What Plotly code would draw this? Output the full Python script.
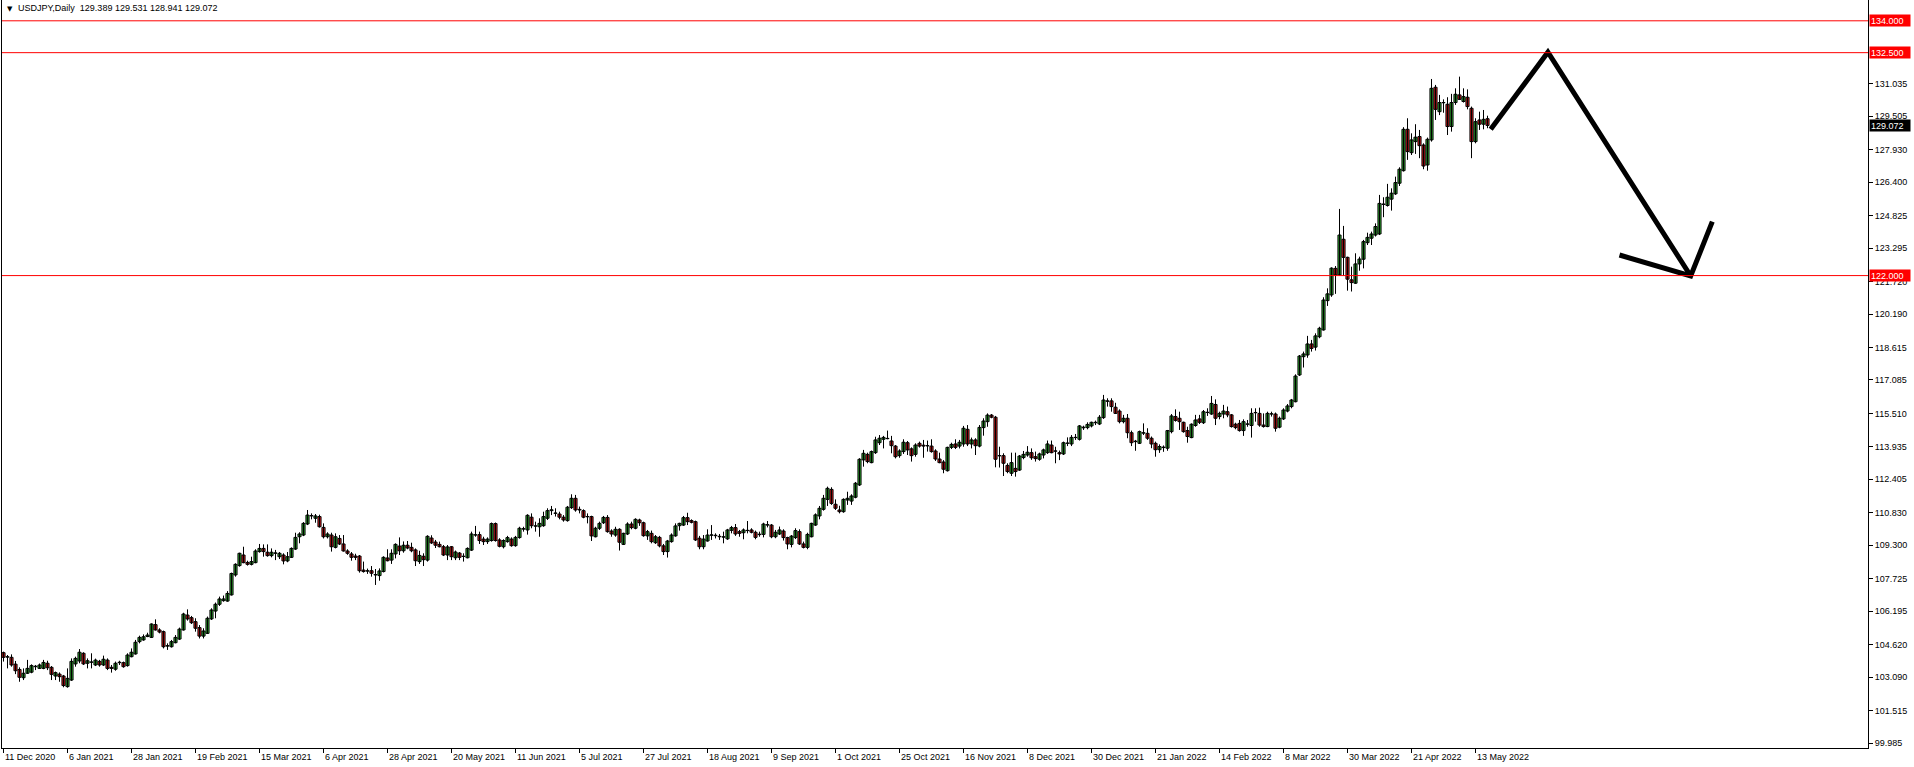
import plotly.graph_objects as go

OPEN = [
104.24,104.03,104.02,103.70,103.45,103.06,103.27,103.32,103.58,103.50,
103.50,103.74,103.55,103.14,103.23,103.14,102.64,102.95,103.71,103.85,
104.21,103.74,103.79,103.66,103.83,103.66,103.89,103.55,103.46,103.77,
103.77,103.63,104.05,104.18,104.76,104.84,105.00,104.96,105.56,105.31,
105.23,104.55,104.52,104.71,104.88,105.31,106.01,105.89,105.70,105.42,
105.02,105.15,105.83,106.20,106.52,106.69,106.67,106.96,107.90,108.34,
108.84,108.49,108.40,108.48,109.00,109.15,108.97,108.81,108.92,108.76,
108.84,108.56,108.73,109.12,109.70,109.78,110.30,110.68,110.57,110.65,
110.14,109.70,109.78,109.20,109.62,109.36,109.03,108.89,108.79,108.79,
108.13,108.08,108.10,107.90,107.87,108.06,108.70,108.60,108.89,109.26,
109.04,109.30,109.20,109.08,108.53,108.78,108.60,109.64,109.45,109.34,
109.23,108.84,109.23,108.71,108.93,108.77,108.71,109.07,109.78,109.80,
109.59,109.47,109.52,110.32,109.55,109.23,109.47,109.59,109.28,109.66,
110.06,110.02,110.62,110.20,110.17,110.22,110.57,110.93,110.80,110.77,
110.62,110.46,111.07,111.51,110.99,110.93,110.65,110.65,109.70,110.10,
110.36,110.61,109.97,109.78,110.05,109.34,109.83,110.30,110.10,110.49,
110.36,109.74,109.86,109.42,109.67,109.27,109.00,109.47,109.74,110.22,
110.25,110.60,110.46,110.41,109.63,109.23,109.50,109.77,109.75,109.72,
109.68,109.60,110.00,110.13,109.94,109.89,109.99,110.02,109.91,109.80,
109.81,110.25,110.25,109.70,109.83,109.97,109.66,109.34,109.66,109.94,
109.36,109.20,109.70,110.25,110.68,110.99,111.46,111.93,111.23,110.96,
110.88,111.43,111.38,111.56,112.14,113.32,113.58,113.19,113.66,114.13,
114.29,114.32,114.21,113.97,113.52,113.71,114.13,113.84,113.58,114.10,
114.01,113.99,113.97,113.74,113.36,113.22,112.81,113.91,114.07,113.97,
114.07,114.76,114.07,114.26,113.97,114.84,115.12,115.43,115.33,113.51,
113.52,113.06,112.69,112.92,112.84,113.43,113.55,113.66,113.47,113.35,
113.55,113.66,114.02,113.74,113.66,113.60,114.10,114.07,114.37,114.29,
114.83,114.84,114.92,115.07,115.01,115.31,116.08,116.10,115.80,115.62,
115.12,115.28,114.60,114.18,114.10,114.58,114.57,114.34,114.10,113.80,
113.90,113.87,114.65,115.36,115.28,115.09,114.70,114.37,114.94,115.25,
115.07,115.55,115.48,115.93,115.36,115.48,115.59,115.44,115.00,115.04,
114.70,115.00,114.94,115.54,115.51,114.96,114.89,115.48,115.48,114.86,
115.25,115.62,115.83,116.06,117.32,118.18,118.26,118.78,118.63,119.12,
119.44,120.82,121.09,122.34,122.03,123.71,122.86,121.80,121.64,122.55,
122.77,123.55,123.76,123.91,123.96,125.35,125.30,125.60,125.85,126.35,
126.94,128.89,127.79,128.31,128.55,128.15,127.21,128.39,130.87,129.72,
130.14,130.07,129.02,130.15,130.51,130.20,130.40,129.88,128.31,129.33,
129.13,129.389]

HIGH = [
104.29,104.13,104.16,103.85,103.55,103.50,103.90,103.69,103.66,103.73,
103.90,103.86,103.61,103.35,103.31,103.19,103.50,103.97,104.05,104.41,
104.26,103.97,104.21,103.96,103.90,104.10,103.97,103.66,103.82,103.86,
103.82,104.21,104.44,104.84,105.04,105.10,105.18,105.62,105.81,105.39,
105.28,104.68,104.84,105.07,105.42,106.12,106.28,105.97,105.86,105.54,
105.39,105.94,106.33,106.60,106.88,106.93,107.14,108.01,108.45,108.95,
109.23,108.57,108.76,109.11,109.36,109.34,109.34,109.15,109.08,108.98,
108.92,108.98,109.20,109.89,109.91,110.39,110.96,110.80,110.77,110.74,
110.33,109.91,109.89,109.86,109.78,109.78,109.11,108.98,108.90,108.84,
108.53,108.20,108.32,108.18,108.21,108.78,109.11,109.11,109.39,109.67,
109.48,109.50,109.42,109.15,109.04,108.92,109.77,109.77,109.55,109.47,
109.31,109.31,109.26,109.05,108.98,108.92,109.20,109.94,110.21,109.94,
109.70,109.67,110.37,110.37,109.63,109.58,109.74,109.67,109.74,110.17,
110.17,110.76,110.80,110.41,110.57,110.88,111.04,111.15,111.04,110.88,
110.72,111.15,111.70,111.67,111.12,110.99,110.80,110.69,110.17,110.41,
110.68,110.72,110.05,110.17,110.10,109.89,110.38,110.41,110.57,110.55,
110.41,110.02,109.99,109.78,109.74,109.36,109.55,109.86,110.33,110.36,
110.68,110.83,110.52,110.46,109.74,109.78,110.05,110.25,109.86,109.83,
109.94,110.07,110.21,110.30,110.02,110.09,110.44,110.10,109.99,109.94,
110.36,110.44,110.30,110.02,110.18,110.05,109.70,109.78,110.10,110.05,
109.47,109.89,110.36,110.80,111.15,111.67,112.06,112.03,111.46,111.16,
111.51,111.82,111.70,112.28,113.40,113.79,113.66,113.76,114.41,114.49,
114.45,114.70,114.45,114.02,113.82,114.29,114.21,113.91,114.10,114.18,
114.26,114.23,114.29,113.82,113.66,113.31,113.94,114.13,114.29,114.26,
114.92,114.96,114.37,114.34,114.96,115.28,115.51,115.48,115.39,113.94,
113.63,113.16,113.66,113.66,113.55,113.74,113.97,113.86,113.71,113.66,
113.85,114.23,114.23,113.94,113.76,114.18,114.38,114.49,114.54,114.96,
114.93,115.09,115.12,115.17,115.43,116.38,116.22,116.22,116.01,115.70,
115.44,115.48,114.70,114.26,114.70,115.04,114.81,114.42,114.18,114.05,
114.00,114.73,115.48,115.70,115.59,115.12,114.88,115.04,115.44,115.44,
115.67,115.75,116.33,116.17,115.59,115.91,115.83,115.48,115.07,115.20,
115.23,115.20,115.75,115.75,115.78,115.51,115.59,115.59,115.55,115.36,
115.75,115.95,116.19,117.35,118.26,118.42,119.16,118.97,119.28,119.59,
120.98,121.40,122.39,122.45,125.14,124.34,122.89,122.42,123.05,122.89,
123.68,124.02,124.07,124.46,125.80,125.69,126.32,126.11,126.66,127.10,
128.99,129.41,128.70,129.13,128.86,128.23,128.50,131.26,130.98,130.51,
130.30,130.40,130.56,130.82,131.37,130.82,130.77,129.96,129.41,129.72,
129.80,129.531]

LOW = [
103.82,103.50,103.58,103.23,102.87,102.95,103.24,103.27,103.42,103.47,
103.46,103.42,102.95,102.95,102.87,102.61,102.59,102.91,103.58,103.74,
103.66,103.50,103.50,103.61,103.58,103.61,103.42,103.30,103.39,103.66,
103.53,103.58,104.02,104.15,104.68,104.80,104.97,104.93,105.28,105.15,
104.44,104.37,104.48,104.68,104.84,105.28,105.75,105.59,105.23,104.91,
104.91,105.12,105.78,105.86,106.44,106.64,106.64,106.93,107.82,108.29,
108.45,108.34,108.35,108.45,108.95,108.76,108.76,108.73,108.60,108.65,
108.40,108.50,108.70,109.08,109.39,109.73,110.25,110.52,110.36,110.13,
109.62,109.62,109.00,109.15,109.31,109.00,108.85,108.57,108.60,108.01,
108.01,107.95,107.82,107.43,107.63,108.02,108.54,108.42,108.68,108.84,
108.95,109.11,108.97,108.32,108.42,108.32,108.53,109.36,109.17,109.20,
108.79,108.60,108.60,108.60,108.60,108.53,108.68,109.03,109.70,109.36,
109.31,109.36,109.47,109.47,109.20,109.15,109.42,109.23,109.23,109.61,
109.94,109.80,110.10,109.94,109.70,110.17,110.49,110.72,110.65,110.52,
110.41,110.41,111.01,110.88,110.80,110.57,110.33,109.50,109.67,110.02,
110.30,109.89,109.70,109.70,109.05,109.31,109.78,110.05,110.05,110.21,
109.70,109.55,109.39,109.36,109.20,108.84,108.72,109.42,109.70,109.99,
110.21,110.25,110.33,109.50,109.11,109.11,109.47,109.55,109.62,109.55,
109.39,109.55,109.86,109.74,109.70,109.58,109.86,109.86,109.58,109.70,
109.67,110.14,109.63,109.63,109.78,109.52,109.11,109.20,109.59,109.31,
109.15,109.11,109.67,110.21,110.52,110.93,111.15,111.20,110.96,110.80,
110.83,111.20,111.20,111.51,112.09,113.00,113.16,113.16,113.60,114.02,
113.86,114.29,113.63,113.39,113.42,113.60,113.55,113.24,113.47,113.90,
113.42,113.71,113.66,113.27,113.16,112.69,112.77,113.83,113.83,113.86,
113.94,113.97,113.86,113.55,113.91,114.46,114.88,115.28,112.97,112.96,
112.56,112.69,112.56,112.53,112.80,113.35,113.47,113.32,113.24,113.28,
113.39,113.60,113.63,113.16,113.31,113.55,113.97,113.97,114.26,114.23,
114.73,114.76,114.85,114.96,114.96,115.25,115.83,115.59,115.48,115.04,
115.04,114.34,113.97,113.75,114.07,114.49,114.26,113.87,113.47,113.65,
113.70,113.75,114.57,115.12,114.73,114.60,114.13,114.34,114.88,115.01,
115.01,115.39,115.44,114.96,115.23,115.28,115.33,114.84,114.76,114.65,
114.45,114.88,114.37,115.12,114.88,114.84,114.86,115.36,114.65,114.81,
115.20,115.56,115.75,116.03,117.27,117.67,118.13,118.42,118.47,119.05,
119.41,120.57,121.00,121.14,121.98,121.98,121.29,121.25,121.61,122.23,
122.34,123.44,123.44,123.84,123.91,124.75,125.25,125.06,125.80,126.22,
126.90,127.45,127.68,127.73,127.53,127.01,126.94,128.31,129.33,129.56,
129.67,128.62,128.78,130.04,130.27,130.15,129.83,127.53,128.23,128.86,
128.89,128.941]

CLOSE = [
104.02,104.05,103.66,103.39,103.08,103.27,103.50,103.63,103.60,103.66,
103.78,103.53,103.22,103.30,103.11,102.69,103.03,103.83,103.97,104.26,
103.71,103.86,103.80,103.89,103.66,103.93,103.50,103.50,103.74,103.79,
103.58,104.13,104.26,104.73,104.96,104.99,105.07,105.59,105.31,105.21,
104.52,104.57,104.76,104.96,105.35,106.06,105.83,105.65,105.39,105.02,
105.26,105.86,106.25,106.52,106.77,106.77,107.03,107.97,108.40,108.92,
108.48,108.40,108.53,109.03,109.15,109.00,108.81,108.97,108.94,108.92,
108.56,108.76,109.15,109.67,109.83,110.33,110.72,110.70,110.68,110.17,
109.70,109.83,109.23,109.70,109.36,109.03,108.92,108.73,108.73,108.10,
108.06,108.10,107.98,107.92,108.09,108.73,108.57,108.92,109.34,109.04,
109.30,109.17,109.04,108.57,108.82,108.62,109.72,109.41,109.30,109.23,
108.84,109.22,108.76,108.98,108.73,108.77,109.15,109.83,109.79,109.52,
109.47,109.59,110.32,109.52,109.25,109.52,109.66,109.28,109.67,110.10,
110.08,110.71,110.22,110.21,110.33,110.65,110.93,110.97,110.82,110.62,
110.49,111.09,111.51,110.96,110.96,110.62,110.64,109.74,110.10,110.33,
110.61,109.94,109.83,110.05,109.44,109.86,110.30,110.13,110.52,110.36,
109.75,109.94,109.47,109.70,109.27,109.00,109.50,109.78,110.21,110.33,
110.60,110.41,110.38,109.55,109.23,109.59,109.78,109.79,109.77,109.70,
109.70,110.02,110.13,109.83,109.86,110.02,110.00,109.91,109.67,109.82,
110.30,110.27,109.70,109.91,110.02,109.66,109.36,109.73,109.99,109.36,
109.20,109.81,110.33,110.73,111.04,111.51,111.98,111.27,111.04,110.88,
111.46,111.51,111.62,112.22,113.35,113.63,113.24,113.71,114.26,114.34,
114.38,114.33,113.99,113.47,113.74,114.15,113.79,113.52,114.02,113.97,
113.97,113.98,113.71,113.36,113.19,112.88,113.91,114.05,113.91,114.15,
114.81,114.07,114.26,113.99,114.85,115.15,115.43,115.33,113.35,113.52,
113.16,112.77,113.19,112.77,113.50,113.58,113.68,113.42,113.38,113.60,
113.79,114.07,113.66,113.73,113.60,114.13,114.11,114.38,114.38,114.92,
114.86,114.99,115.09,115.09,115.33,116.14,116.10,115.83,115.51,115.12,
115.28,114.60,114.13,114.20,114.65,114.60,114.34,114.07,113.80,113.95,
113.92,114.70,115.39,115.18,115.12,114.65,114.42,115.00,115.20,115.09,
115.59,115.56,115.98,115.28,115.51,115.62,115.44,114.89,114.84,114.70,
115.12,115.01,115.51,115.55,114.96,114.89,115.51,115.49,114.81,115.28,
115.67,115.86,116.14,117.27,118.21,118.31,118.78,118.57,119.16,119.52,
120.85,121.14,122.35,122.03,123.91,122.86,121.83,121.67,122.55,122.78,
123.60,123.80,123.96,124.31,125.40,125.37,125.69,125.88,126.38,127.01,
128.89,127.84,128.39,128.52,128.12,127.16,128.42,130.82,129.83,130.15,
130.15,129.02,130.15,130.54,130.30,130.43,129.96,128.31,129.25,129.13,
129.36,129.072]

X_LABELS = ["11 Dec 2020", "6 Jan 2021", "28 Jan 2021", "19 Feb 2021", "15 Mar 2021",
            "6 Apr 2021", "28 Apr 2021", "20 May 2021", "11 Jun 2021", "5 Jul 2021",
            "27 Jul 2021", "18 Aug 2021", "9 Sep 2021", "1 Oct 2021", "25 Oct 2021",
            "16 Nov 2021", "8 Dec 2021", "30 Dec 2021", "21 Jan 2022", "14 Feb 2022",
            "8 Mar 2022", "30 Mar 2022", "21 Apr 2022", "13 May 2022"]
X_LABEL_STEP = 16

Y_TICKS = [99.985, 101.515, 103.090, 104.620, 106.195, 107.725, 109.300, 110.830,
           112.405, 113.935, 115.510, 117.085, 118.615, 120.190, 121.720, 123.295,
           124.825, 126.400, 127.930, 129.505, 131.035]

LEVELS = [134.0, 132.5, 122.0]

# hand-drawn projection arrow (bar index, price)
PATH_X = [371.8, 386.1, 421.8]
PATH_Y = [128.89, 132.52, 121.98]
HEAD_X = [404.0, 421.8, 427.2]
HEAD_Y = [122.97, 121.98, 124.54]

SYMBOL = "USDJPY,Daily"
LAST = (OPEN[-1], HIGH[-1], LOW[-1], CLOSE[-1])

FONT = "Liberation Sans"
BULL = "#32b432"
BEAR = "#e41e1e"

X = list(range(len(OPEN)))
XTICK_POS = [i * X_LABEL_STEP for i in range(len(X_LABELS))]

# wicks (high-low segments)
wx, wy = [], []
for i, h, l in zip(X, HIGH, LOW):
    wx += [i, i, None]
    wy += [l, h, None]

body_base = [min(o, c) for o, c in zip(OPEN, CLOSE)]
body_len = [max(abs(c - o), 0.012) for o, c in zip(OPEN, CLOSE)]
body_col = [BULL if c >= o else BEAR for o, c in zip(OPEN, CLOSE)]

fig = go.Figure()
fig.add_trace(go.Scatter(x=wx, y=wy, mode="lines", line=dict(color="black", width=1),
                         hoverinfo="skip", showlegend=False))
fig.add_trace(go.Bar(x=X, y=body_len, base=body_base, width=0.78,
                     marker=dict(color=body_col, line=dict(color="black", width=1)),
                     hoverinfo="skip", showlegend=False))

for xs, ys in ((PATH_X, PATH_Y), (HEAD_X, HEAD_Y)):
    fig.add_trace(go.Scatter(x=xs, y=ys, mode="lines",
                             line=dict(color="black", width=5),
                             hoverinfo="skip", showlegend=False))

shapes = [dict(type="line", xref="paper", x0=0, x1=1, yref="y", y0=lv, y1=lv,
               line=dict(color="#ff0000", width=1), layer="above") for lv in LEVELS]

ann = []
for pos, lab in zip(XTICK_POS, X_LABELS):
    ann.append(dict(x=pos, y=0, xref="x", yref="paper", xanchor="left", yanchor="top",
                    text=lab, showarrow=False, xshift=-1, yshift=-2,
                    font=dict(family=FONT, size=9, color="black")))
for lv in LEVELS:
    ann.append(dict(x=1, y=lv, xref="paper", yref="y", xanchor="left", yanchor="middle",
                    text=f"{lv:.3f}", showarrow=False, xshift=1, bgcolor="#ff0000",
                    width=38, height=9, align="left", borderpad=1,
                    font=dict(family=FONT, size=9, color="white")))
ann.append(dict(x=1, y=LAST[3], xref="paper", yref="y", xanchor="left", yanchor="middle",
                text=f"{LAST[3]:.3f}", showarrow=False, xshift=1, bgcolor="black",
                width=38, height=9, align="left", borderpad=1,
                font=dict(family=FONT, size=9, color="white")))
ann.append(dict(x=0, y=1, xref="paper", yref="paper", xanchor="left", yanchor="top",
                text="▼", showarrow=False, xshift=3, yshift=-3,
                font=dict(family="DejaVu Sans", size=7, color="black")))
ann.append(dict(x=0, y=1, xref="paper", yref="paper", xanchor="left", yanchor="top",
                text=SYMBOL + "\u00a0\u00a0" + " ".join(f"{v:.3f}" for v in LAST),
                showarrow=False, xshift=14, yshift=-1,
                font=dict(family=FONT, size=9, color="black")))

fig.update_layout(
    width=1914, height=767, autosize=False,
    margin=dict(l=2, r=46, t=0, b=19, pad=0),
    paper_bgcolor="white", plot_bgcolor="white", showlegend=False,
    xaxis=dict(range=[-0.375, 466.125], showgrid=False, zeroline=False,
               showline=True, linecolor="black", linewidth=1, mirror=True,
               ticks="outside", ticklen=4, tickcolor="black", tickvals=XTICK_POS,
               showticklabels=False, fixedrange=True),
    yaxis=dict(range=[99.75, 134.98], side="right", showgrid=False, zeroline=False,
               showline=True, linecolor="black", linewidth=1, mirror=True,
               ticks="outside", ticklen=4, tickcolor="black", tickvals=Y_TICKS,
               ticktext=[f"{t:.3f}" for t in Y_TICKS],
               tickfont=dict(family=FONT, size=9, color="black"), fixedrange=True),
    shapes=shapes, annotations=ann,
)

fig.write_html("out.html", config={"displayModeBar": False, "staticPlot": True},
               post_script="document.body.style.margin='0';document.body.style.overflow='hidden';")
